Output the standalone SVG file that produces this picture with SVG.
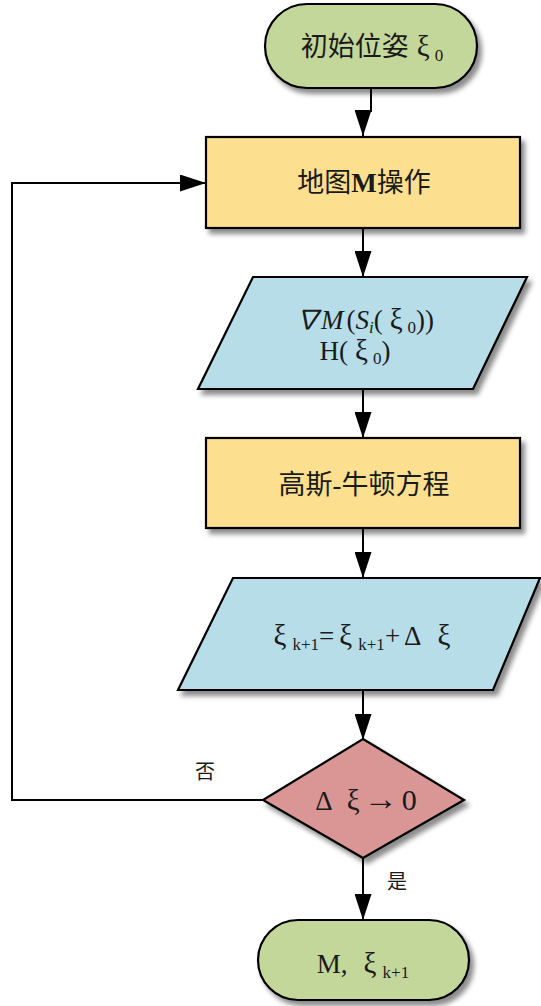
<svg xmlns="http://www.w3.org/2000/svg" width="541" height="1006" viewBox="0 0 541 1006">
<style>
.t{font-family:"Liberation Serif","Noto Sans CJK SC",serif;font-size:27px;fill:#1a1a1a}
.c{font-family:"Noto Sans CJK SC","Liberation Serif",serif;font-size:20px;fill:#1a1a1a}
.s{font-size:17px}
.x{font-size:29px}
.n{stroke:#000;stroke-width:2.2}
.e{fill:none;stroke:#000;stroke-width:2}
</style>
<defs>
<filter id="sh" x="-10%" y="-10%" width="125%" height="130%">
<feDropShadow dx="4" dy="5" stdDeviation="2.5" flood-color="#000" flood-opacity="0.45"/>
</filter>
<marker id="ar" markerUnits="userSpaceOnUse" markerWidth="26" markerHeight="17" refX="26" refY="8.5" orient="auto">
<path d="M0,0 L26,8.5 L0,17 z" fill="#000"/>
</marker>
</defs>
<rect width="541" height="1006" fill="#fff"/>
<g id="connectors">
<path class="e" d="M371,88 V111 H363 V136" marker-end="url(#ar)"/>
<path class="e" d="M363,228 V277" marker-end="url(#ar)"/>
<path class="e" d="M363,389 V438" marker-end="url(#ar)"/>
<path class="e" d="M363,528 V578" marker-end="url(#ar)"/>
<path class="e" d="M363,690 V740" marker-end="url(#ar)"/>
<path class="e" d="M363,858 V920" marker-end="url(#ar)"/>
<path class="e" d="M263,800 H12 V183 H206" marker-end="url(#ar)"/>
<text class="c" x="205" y="779" text-anchor="middle">否</text>
<text class="c" x="397" y="889" text-anchor="middle">是</text>
</g>
<g id="start">
<rect class="n" x="265" y="4" width="212" height="84" rx="42" fill="#C4D79B" filter="url(#sh)"/>
<text class="t" x="372" y="56" text-anchor="middle">初始位姿<tspan class="x" dx="8">ξ</tspan><tspan class="s" dx="5" dy="5">0</tspan></text>
</g>
<g id="map">
<rect class="n" x="206" y="137" width="314" height="91" fill="#FDE08F" filter="url(#sh)"/>
<text class="t" x="364" y="192" text-anchor="middle">地图<tspan font-weight="bold">M</tspan>操作</text>
</g>
<g id="grad">
<polygon class="n" points="253,277 527,277 473,389 198,389" fill="#B7DDE8" filter="url(#sh)"/>
<text class="t" x="364" y="329" text-anchor="middle" font-size="25"><tspan font-style="italic">∇M</tspan><tspan dx="3">(</tspan><tspan font-style="italic">S</tspan><tspan class="s" font-style="italic" dy="4">i</tspan><tspan dy="-4">(</tspan><tspan class="x" font-size="27" dx="7">ξ</tspan><tspan class="s" dx="5" dy="4">0</tspan><tspan dy="-4">))</tspan></text>
<text class="t" x="355" y="360" text-anchor="middle" font-size="25">H(<tspan class="x" font-size="27" dx="7">ξ</tspan><tspan class="s" dx="5" dy="4">0</tspan><tspan dy="-4">)</tspan></text>
</g>
<g id="gauss">
<rect class="n" x="206" y="438" width="314" height="90" fill="#FDE08F" filter="url(#sh)"/>
<text class="t" x="364" y="494" text-anchor="middle" font-size="28">高斯-牛顿方程</text>
</g>
<g id="update">
<polygon class="n" points="233,578 540,578 493,690 178,690" fill="#B7DDE8" filter="url(#sh)"/>
<text class="t" x="362" y="645" text-anchor="middle"><tspan class="x">ξ</tspan><tspan class="s" dx="6" dy="5">k+1</tspan><tspan dy="-5">=</tspan><tspan class="x" dx="5">ξ</tspan><tspan class="s" dx="6" dy="5">k+1</tspan><tspan dy="-5">+</tspan><tspan dx="4">Δ</tspan><tspan class="x" dx="16">ξ</tspan></text>
</g>
<g id="cond">
<polygon class="n" points="363,739 464,800 363,858 263,800" fill="#D99694" filter="url(#sh)"/>
<text class="t" x="366" y="810" text-anchor="middle">Δ<tspan class="x" dx="14">ξ</tspan><tspan dx="4" font-size="34">→</tspan><tspan font-size="30" dx="4">0</tspan></text>
</g>
<g id="end">
<rect class="n" x="258" y="920" width="211" height="80" rx="40" fill="#C4D79B" filter="url(#sh)"/>
<text class="t" x="363" y="973" text-anchor="middle">M,<tspan class="x" dx="16">ξ</tspan><tspan class="s" dx="6" dy="5">k+1</tspan></text>
</g>
</svg>
